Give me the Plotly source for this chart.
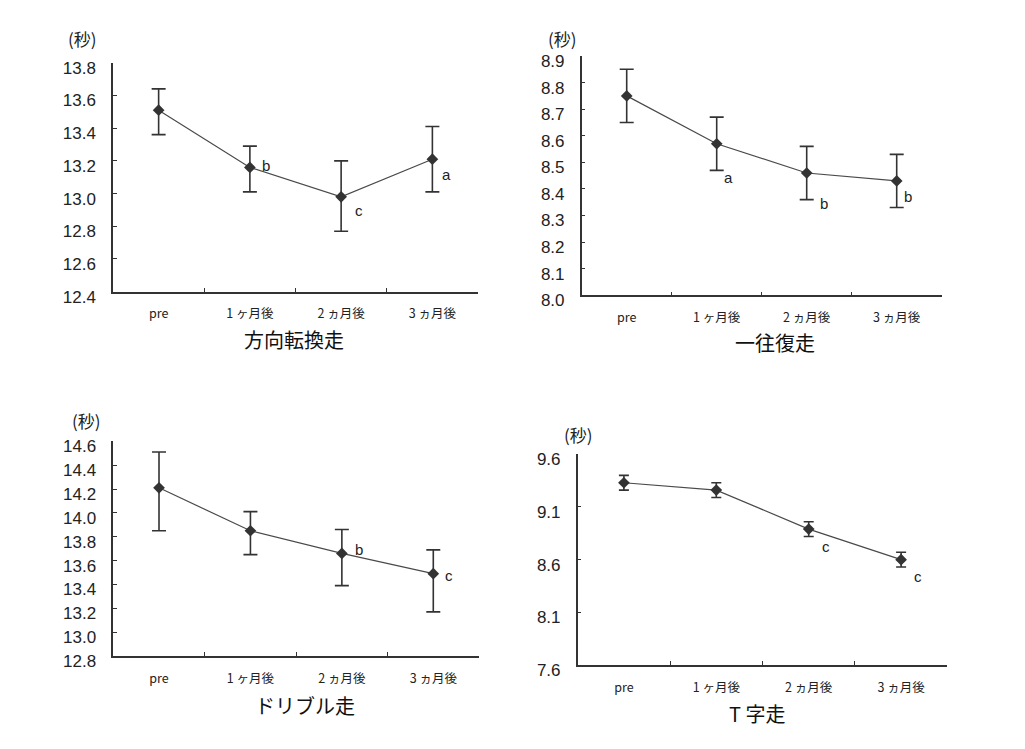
import plotly.graph_objects as go

# ---------------- data ----------------
categories = ["pre", "1 ヶ月後", "2 ヵ月後", "3 ヵ月後"]
unit_label = "(秒)"

titles = ["方向転換走", "一往復走", "ドリブル走", "T 字走"]

turn_mean = [13.51, 13.16, 12.98, 13.21]
turn_err_up = [0.13, 0.13, 0.22, 0.20]
turn_err_down = [0.15, 0.15, 0.21, 0.20]
turn_sig = ["", "b", "c", "a"]

shuttle_mean = [8.75, 8.57, 8.46, 8.43]
shuttle_err_up = [0.10, 0.10, 0.10, 0.10]
shuttle_err_down = [0.10, 0.10, 0.10, 0.10]
shuttle_sig = ["", "a", "b", "b"]

dribble_mean = [14.21, 13.85, 13.66, 13.49]
dribble_err_up = [0.30, 0.16, 0.20, 0.20]
dribble_err_down = [0.36, 0.20, 0.27, 0.32]
dribble_sig = ["", "", "b", "c"]

t_mean = [9.33, 9.26, 8.89, 8.60]
t_err_up = [0.07, 0.07, 0.07, 0.07]
t_err_down = [0.07, 0.07, 0.07, 0.07]
t_sig = ["", "", "c", "c"]

y_ranges = [(12.4, 13.8), (8.0, 8.9), (12.8, 14.6), (7.6, 9.6)]
y_dticks = [0.2, 0.1, 0.2, 0.5]

# ---------------- layout geometry (pixels in the final picture) ----------------
W, H = 1025, 749
OFF = 8  # page body margin
# (left, right, top, bottom) of each plot area in pixels
boxes = [
    (113, 478, 62.7, 291.7),
    (581.7, 941.7, 56, 295.3),
    (113.3, 479, 441.3, 656),
    (577.7, 947.3, 454.3, 665),
]
unit_pos = [(82, 38), (562, 38), (86, 421), (578, 434)]
title_pos = [(294, 339), (775, 342), (305, 705), (757, 713)]
cap_widths = [7, 7, 7, 5]
sig_offsets = [
    [None, (16, 2), (18, -14), (14, -15)],
    [None, (12, -34), (17, -31), (11, -16)],
    [None, None, (17, 4), (16, -2)],
    [None, None, (17, -17), (17, -17)],
]


def px_x(p):
    return (p - OFF) / W


def px_y(p):
    return 1 - (p - OFF) / H


panels = [
    (turn_mean, turn_err_up, turn_err_down, turn_sig),
    (shuttle_mean, shuttle_err_up, shuttle_err_down, shuttle_sig),
    (dribble_mean, dribble_err_up, dribble_err_down, dribble_sig),
    (t_mean, t_err_up, t_err_down, t_sig),
]

DARK = "#333333"
fig = go.Figure()
annotations = []
layout_axes = {}

for i, (mean, up, down, sig) in enumerate(panels):
    n = i + 1
    xa = "x" if n == 1 else f"x{n}"
    ya = "y" if n == 1 else f"y{n}"
    fig.add_trace(go.Scatter(
        x=categories, y=mean, xaxis=xa, yaxis=ya,
        mode="lines+markers",
        line=dict(color="#4a4a4a", width=1.2),
        marker=dict(symbol="diamond", size=9, color=DARK),
        error_y=dict(type="data", symmetric=False, array=up, arrayminus=down,
                     color=DARK, thickness=1.6, width=cap_widths[i]),
        showlegend=False, hoverinfo="x+y",
    ))
    l, r, t, b = boxes[i]
    xkey = "xaxis" if n == 1 else f"xaxis{n}"
    ykey = "yaxis" if n == 1 else f"yaxis{n}"
    layout_axes[xkey] = dict(
        domain=[px_x(l), px_x(r)], anchor=ya, type="category",
        range=[-0.5, 3.5], tickson="boundaries", automargin=False,
        ticks="inside", ticklen=4, tickcolor=DARK, tickwidth=1,
        showline=True, linecolor=DARK, linewidth=1.5,
        showgrid=False, zeroline=False,
        tickfont=dict(family="Noto Sans CJK JP", size=12.5, color="#222222"),
        ticklabelstandoff=10,
    )
    y0, y1 = y_ranges[i]
    layout_axes[ykey] = dict(
        domain=[px_y(b), px_y(t)], anchor=xa, automargin=False,
        range=[y0, y1], tick0=y0, dtick=y_dticks[i], tickformat=".1f",
        ticks="inside", ticklen=4, tickcolor=DARK, tickwidth=1,
        showline=True, linecolor=DARK, linewidth=1.5,
        showgrid=False, zeroline=False,
        tickfont=dict(family="Liberation Sans, Arial", size=17, color="#222222"),
        ticklabelstandoff=12, ticklabelshift=5,
    )
    # unit label
    ux, uy = unit_pos[i]
    annotations.append(dict(
        x=px_x(ux), y=px_y(uy), xref="paper", yref="paper",
        text=unit_label, showarrow=False,
        font=dict(family="Noto Sans CJK JP", size=17, color="#222222"),
        xanchor="center", yanchor="middle"))
    # panel title
    tx, ty = title_pos[i]
    annotations.append(dict(
        x=px_x(tx), y=px_y(ty), xref="paper", yref="paper",
        text=titles[i], showarrow=False,
        font=dict(family="Noto Sans CJK JP", size=20, color="#111111"),
        xanchor="center", yanchor="middle"))
    # significance letters
    for j, letter in enumerate(sig):
        if not letter:
            continue
        dx, dy = sig_offsets[i][j]
        annotations.append(dict(
            x=categories[j], y=mean[j], xref=xa, yref=ya,
            text=letter, showarrow=False, xshift=dx, yshift=dy,
            font=dict(family="Liberation Sans, Arial", size=15, color="#222222"),
            xanchor="center", yanchor="middle"))

fig.update_layout(
    width=W, height=H,
    margin=dict(l=0, r=0, t=0, b=0, pad=0),
    paper_bgcolor="white", plot_bgcolor="white",
    showlegend=False,
    annotations=annotations,
    **layout_axes,
)

fig.write_html("out.html")
